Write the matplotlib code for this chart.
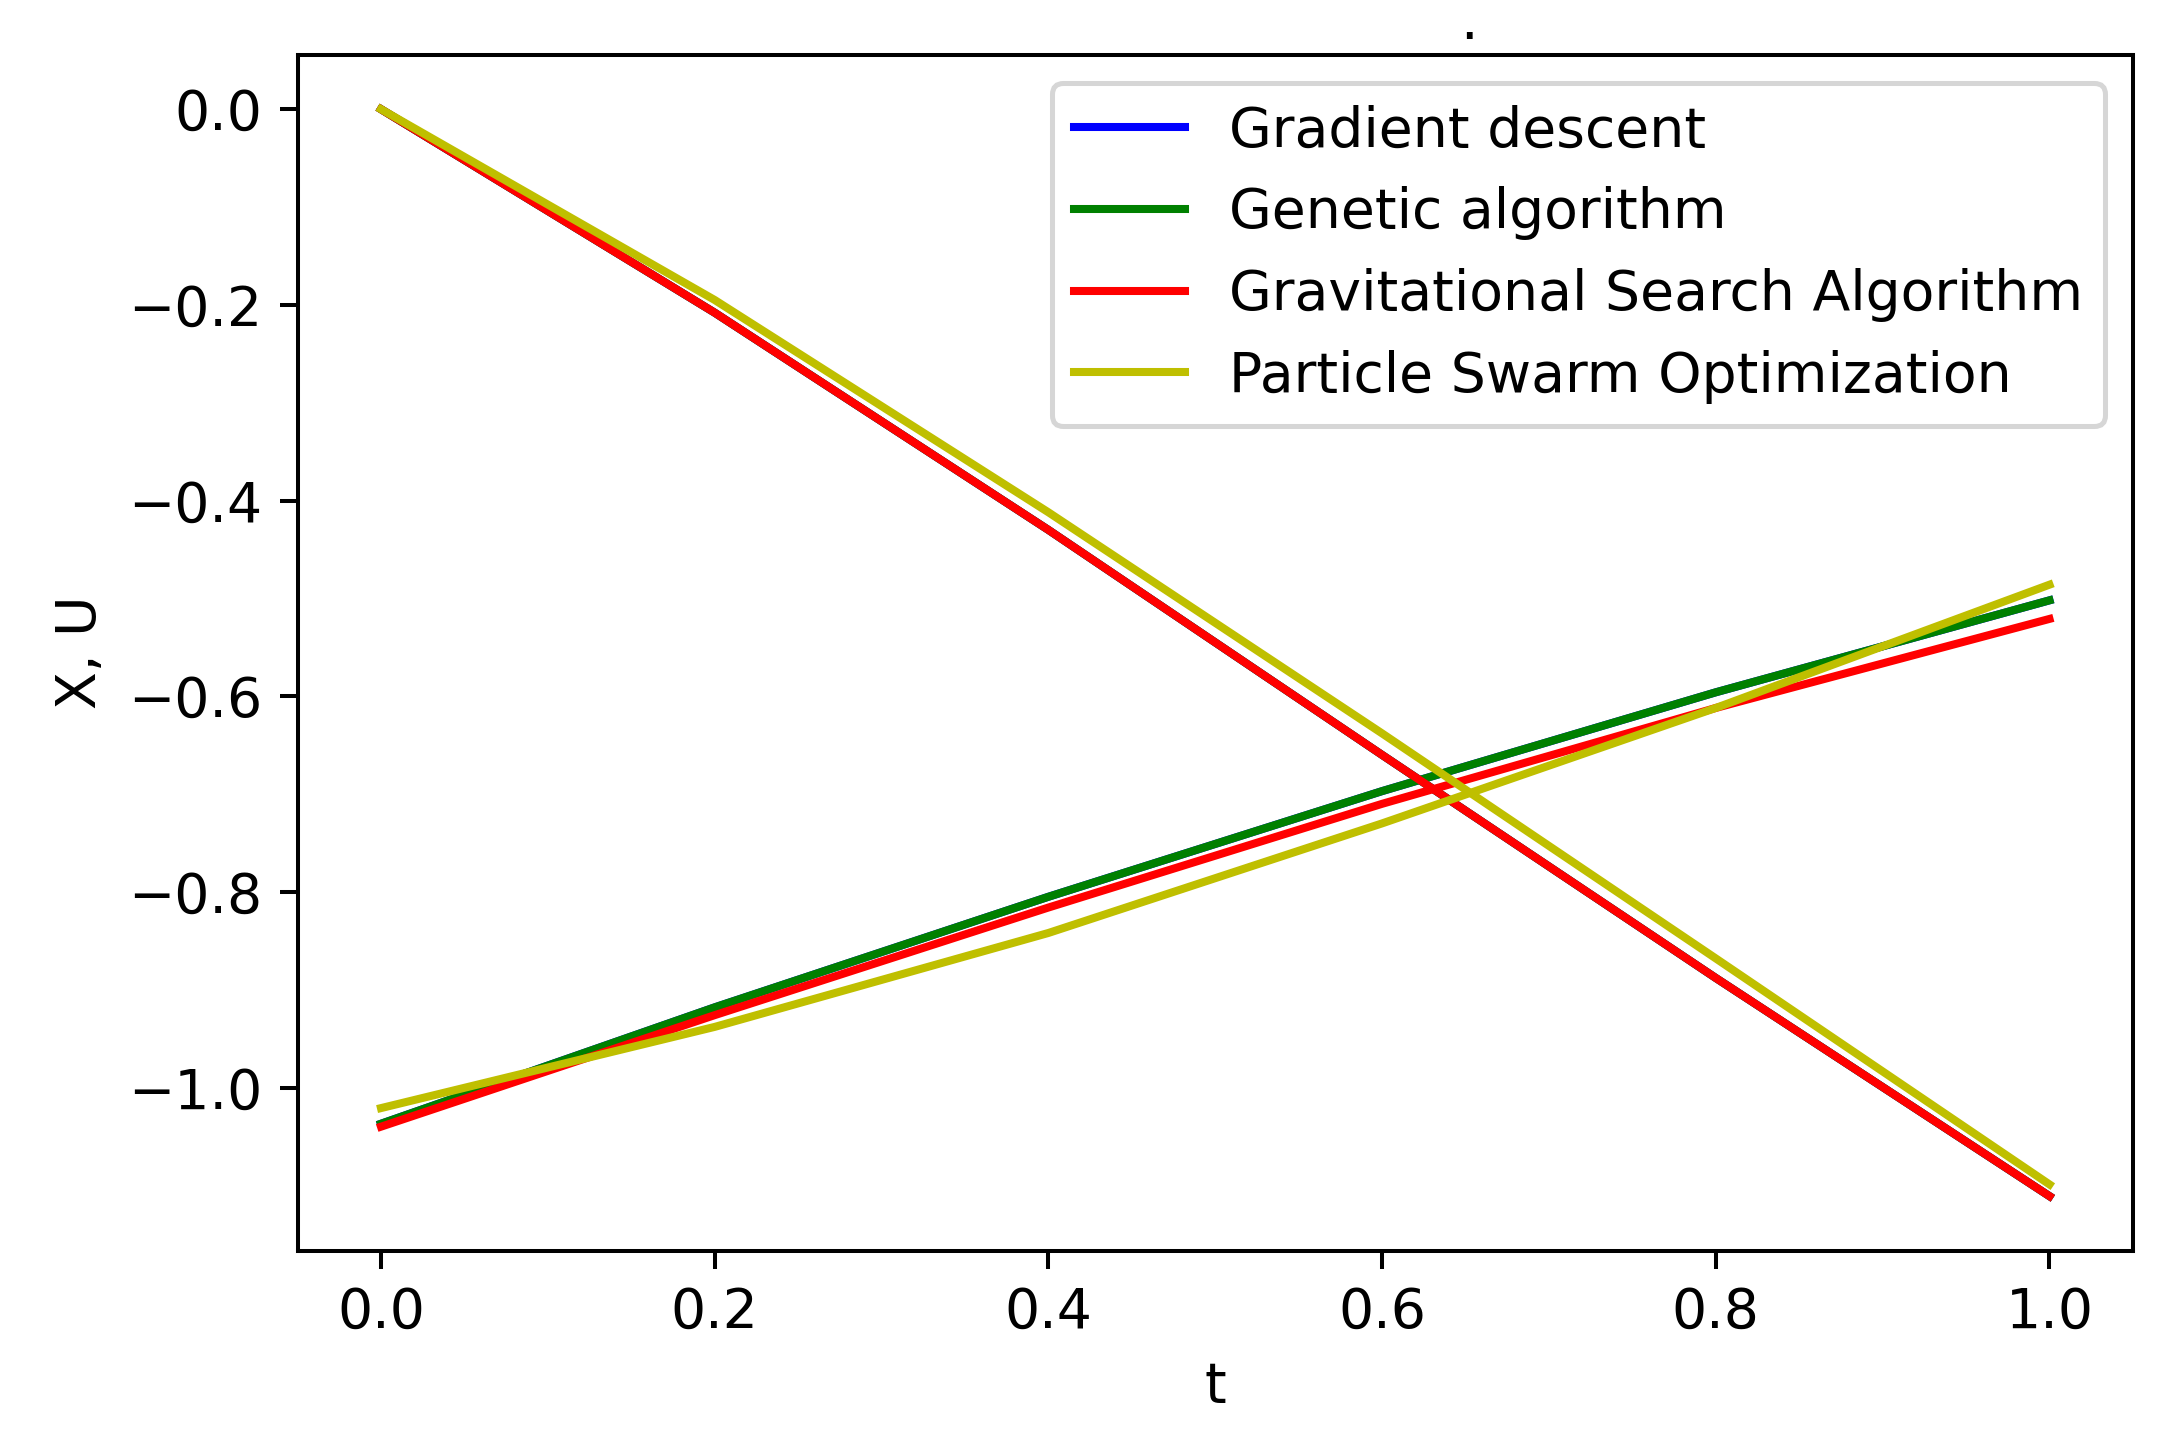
import numpy as np
import matplotlib
matplotlib.use("Agg")
import matplotlib.pyplot as plt

plt.rcParams["font.size"] = 11

# time grid
t = [0.0, 0.2, 0.4, 0.6, 0.8, 1.0]

# state X (decreasing curves)
x_gd = [0.0, -0.208, -0.430, -0.660, -0.888, -1.111]
x_ga = [0.0, -0.208, -0.430, -0.660, -0.888, -1.111]
x_gsa = [0.0, -0.208, -0.430, -0.660, -0.888, -1.111]
x_pso = [0.0, -0.195, -0.412, -0.638, -0.868, -1.099]

# control U (increasing curves)
u_gd = [-1.037, -0.918, -0.805, -0.697, -0.596, -0.502]
u_ga = [-1.037, -0.918, -0.805, -0.697, -0.596, -0.502]
u_gsa = [-1.040, -0.926, -0.816, -0.710, -0.612, -0.521]
u_pso = [-1.021, -0.938, -0.842, -0.730, -0.612, -0.486]

labels = ["Gradient descent", "Genetic algorithm",
          "Gravitational Search Algorithm", "Particle Swarm Optimization"]
colors = ["b", "g", "r", "y"]

fig = plt.figure(figsize=(6.0, 3.989), dpi=362)
ax = fig.add_axes([0.137, 0.134, 0.845, 0.828])

for xs, us, lab, c in zip([x_gd, x_ga, x_gsa, x_pso], [u_gd, u_ga, u_gsa, u_pso], labels, colors):
    ax.plot(t, xs, color=c, label=lab, lw=1.6)
    ax.plot(t, us, color=c, lw=1.6)

ax.set_xlabel("t")
ax.set_ylabel("X, U")
ax.legend(loc="upper right")
ax.text(0.638, 1.003, ".", transform=ax.transAxes, ha="center", va="bottom")

fig.savefig("out.png", dpi=362)
